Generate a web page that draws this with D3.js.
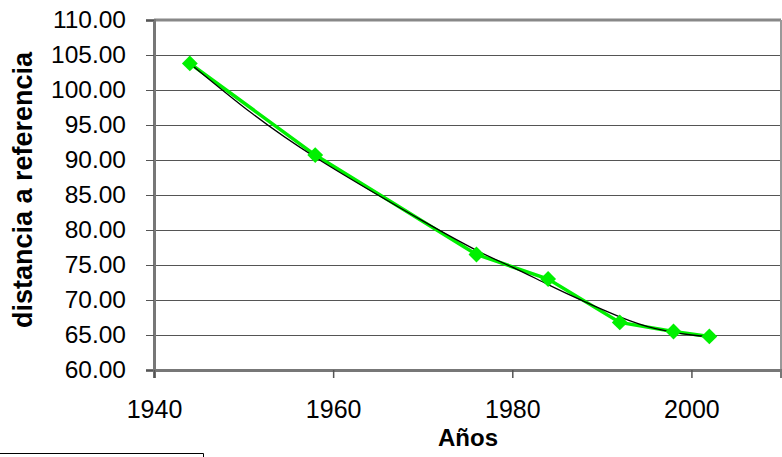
<!DOCTYPE html>
<html>
<head>
<meta charset="utf-8">
<script src="https://cdn.jsdelivr.net/npm/d3@7"></script>
<style>
  html, body { margin: 0; padding: 0; background: #fff; }
  svg { display: block; }
  text { font-family: "Liberation Sans", Arial, sans-serif; fill: #000; }
</style>
</head>
<body>
<svg id="chart" width="782" height="457"></svg>
<script>
// Data
const years = [1944, 1958, 1976, 1984, 1992, 1998, 2002];
const distances = [103.8, 90.7, 76.5, 73.0, 66.8, 65.5, 64.8];
// Smooth trend line
const trendYears = [1944, 1951, 1958, 1965, 1970, 1976, 1980, 1984, 1988, 1992, 1996, 2000, 2002];
const trendValues = [103.8, 96.6, 90.4, 85.0, 81.3, 77.1, 74.7, 72.2, 69.8, 67.6, 65.9, 65.0, 64.8];
const yTicks = [60, 65, 70, 75, 80, 85, 90, 95, 100, 105, 110];
const xTicks = [1940, 1960, 1980, 2000];
const xTickLabels = ["1940", "1960", "1980", "2000"];
const xTitle = "Años";
const yTitle = "distancia a referencia";

const svg = d3.select("#chart");
const pLeft = 154, pRight = 781, pTop = 20, pBottom = 370;

const x = d3.scaleLinear().domain([1940, 2010]).range([pLeft, pRight]);
const y = d3.scaleLinear().domain([60, 110]).range([pBottom, pTop]);

// gridlines
svg.append("g").selectAll("line").data(yTicks.filter(t => t > 60 && t < 110)).join("line")
  .attr("x1", pLeft).attr("x2", pRight)
  .attr("y1", d => y(d)).attr("y2", d => y(d))
  .attr("stroke", "#555").attr("stroke-width", 1).attr("shape-rendering", "crispEdges");

// plot border top/right
svg.append("line").attr("x1", pLeft).attr("x2", pRight).attr("y1", pTop).attr("y2", pTop)
  .attr("stroke", "#888").attr("stroke-width", 3);
svg.append("line").attr("x1", pRight).attr("x2", pRight).attr("y1", pTop).attr("y2", pBottom)
  .attr("stroke", "#999").attr("stroke-width", 2);

// y axis
const yAxis = d3.axisLeft(y).tickValues(yTicks).tickSize(8).tickPadding(20)
  .tickFormat(d3.format(".2f"));
const gy = svg.append("g").attr("transform", `translate(${pLeft},0)`).call(yAxis);
gy.select(".domain").attr("stroke", "#777").attr("stroke-width", 3);
gy.selectAll(".tick line").attr("stroke", "#555").attr("stroke-width", 1);
gy.selectAll(".tick text").attr("font-size", 24.5).attr("font-family", "Liberation Sans, Arial, sans-serif").attr("fill", "#000");

// x axis
const xAxis = d3.axisBottom(x).tickValues(xTicks).tickSize(8).tickPadding(22)
  .tickFormat((d, i) => xTickLabels[i]);
const gx = svg.append("g").attr("transform", `translate(0,${pBottom})`).call(xAxis);
gx.select(".domain").attr("stroke", "#777").attr("stroke-width", 3);
gx.selectAll(".tick line").attr("stroke", "#555").attr("stroke-width", 1.5);
gx.selectAll(".tick text").attr("font-size", 25).attr("font-family", "Liberation Sans, Arial, sans-serif").attr("fill", "#000");

// data line
svg.append("path").datum(years.map((d, i) => [d, distances[i]]))
  .attr("fill", "none").attr("stroke", "#00f000").attr("stroke-width", 3.5)
  .attr("d", d3.line().x(d => x(d[0])).y(d => y(d[1])));

// trend line
svg.append("path").datum(trendYears.map((d, i) => [d, trendValues[i]]))
  .attr("fill", "none").attr("stroke", "#000").attr("stroke-width", 1.3)
  .attr("d", d3.line().curve(d3.curveNatural).x(d => x(d[0])).y(d => y(d[1])));

// markers
svg.append("g").selectAll("path").data(years.map((d, i) => [d, distances[i]])).join("path")
  .attr("transform", d => `translate(${x(d[0])},${y(d[1])})`)
  .attr("d", d3.symbol().type(d3.symbolDiamond2).size(160))
  .attr("fill", "#00f000");

// titles
svg.append("text").attr("x", 468).attr("y", 446).attr("text-anchor", "middle")
  .attr("font-size", 24).attr("font-weight", "bold").text(xTitle);
svg.append("text").attr("transform", "translate(32,190) rotate(-90)").attr("text-anchor", "middle")
  .attr("font-size", 27).attr("font-weight", "bold").text(yTitle);

// partial box at the bottom left
svg.append("path").attr("d", "M0,453.5H203.5V457").attr("fill", "none").attr("stroke", "#000").attr("stroke-width", 1);
</script>
</body>
</html>
